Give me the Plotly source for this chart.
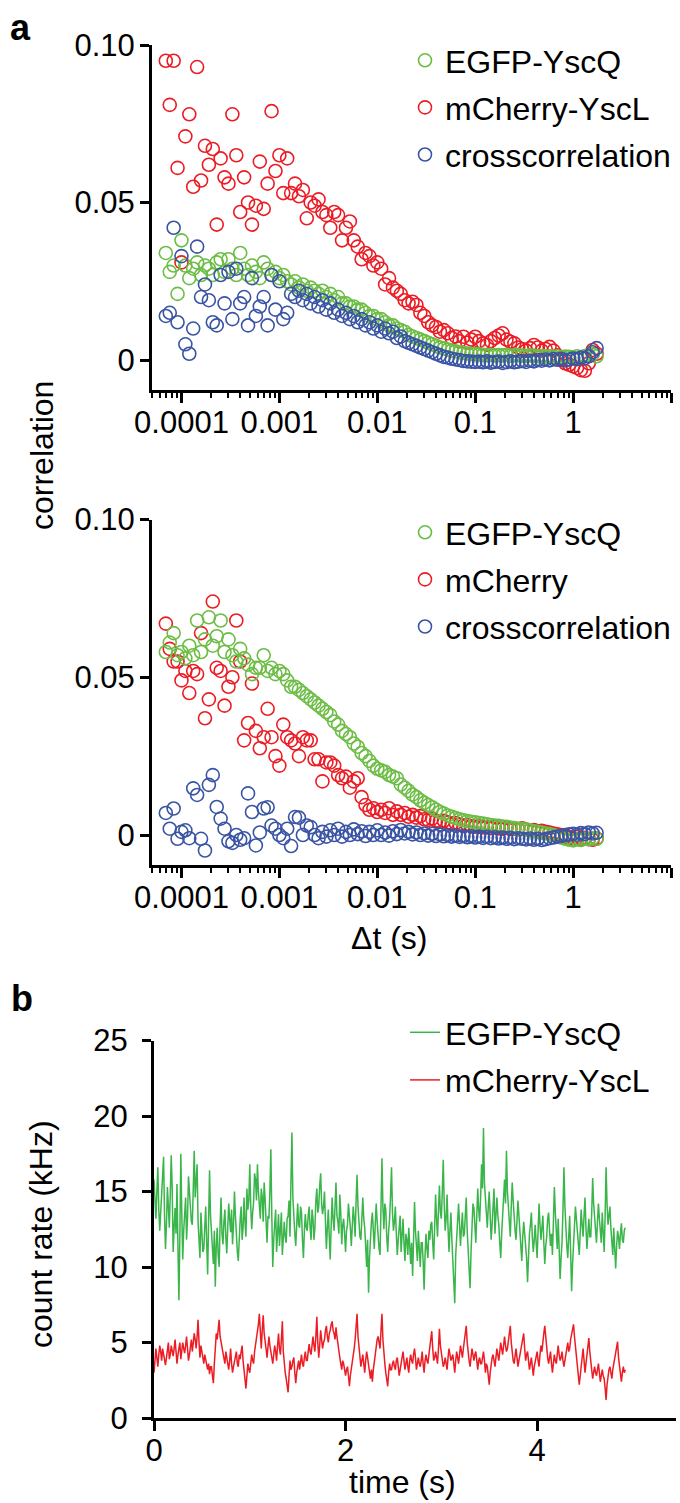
import plotly.graph_objects as go

# ---------------- data ----------------
LAG_S = [
    6.92e-5, 7.59e-5, 8.32e-5, 9.12e-5,
    1.000e-4, 1.096e-4, 1.202e-4, 1.318e-4, 1.445e-4, 1.585e-4, 1.738e-4, 1.905e-4, 2.089e-4, 2.291e-4,
    2.512e-4, 2.754e-4, 3.020e-4, 3.311e-4, 3.631e-4, 3.981e-4, 4.365e-4, 4.786e-4, 5.248e-4, 5.754e-4,
    6.310e-4, 6.918e-4, 7.586e-4, 8.318e-4, 9.120e-4,
    1.000e-3, 1.096e-3, 1.202e-3, 1.318e-3, 1.445e-3, 1.585e-3, 1.738e-3, 1.905e-3, 2.089e-3, 2.291e-3,
    2.512e-3, 2.754e-3, 3.020e-3, 3.311e-3, 3.631e-3, 3.981e-3, 4.365e-3, 4.786e-3, 5.248e-3, 5.754e-3,
    6.310e-3, 6.918e-3, 7.586e-3, 8.318e-3, 9.120e-3,
    1.000e-2, 1.096e-2, 1.202e-2, 1.318e-2, 1.445e-2, 1.585e-2, 1.738e-2, 1.905e-2, 2.089e-2, 2.291e-2,
    2.512e-2, 2.754e-2, 3.020e-2, 3.311e-2, 3.631e-2, 3.981e-2, 4.365e-2, 4.786e-2, 5.248e-2, 5.754e-2,
    6.310e-2, 6.918e-2, 7.586e-2, 8.318e-2, 9.120e-2,
    1.000e-1, 1.096e-1, 1.202e-1, 1.318e-1, 1.445e-1, 1.585e-1, 1.738e-1, 1.905e-1, 2.089e-1, 2.291e-1,
    2.512e-1, 2.754e-1, 3.020e-1, 3.311e-1, 3.631e-1, 3.981e-1, 4.365e-1, 4.786e-1, 5.248e-1, 5.754e-1,
    6.310e-1, 6.918e-1, 7.586e-1, 8.318e-1, 9.120e-1,
    1.000, 1.096, 1.202, 1.318, 1.445, 1.585, 1.738,
]

A1_EGFP_YSCQ = [
    0.034, 0.028, 0.030, 0.021,
    0.038, 0.030, 0.026, 0.029, 0.031, 0.027, 0.030, 0.029, 0.027, 0.031, 0.032, 0.028, 0.032,
    0.029, 0.027, 0.034, 0.029, 0.027, 0.030, 0.028, 0.026, 0.031, 0.029, 0.027, 0.028,
    0.026, 0.027, 0.025, 0.024, 0.025, 0.023, 0.024, 0.022, 0.023, 0.022, 0.021, 0.022, 0.020,
    0.021, 0.019, 0.020, 0.018, 0.018, 0.017, 0.017, 0.016, 0.016, 0.015, 0.014, 0.014,
    0.013, 0.013, 0.012, 0.011, 0.011, 0.010, 0.0095, 0.009, 0.008, 0.0075, 0.007, 0.0065, 0.006,
    0.0055, 0.005, 0.0045, 0.004, 0.0037, 0.0033, 0.003, 0.0028, 0.0025, 0.0023, 0.0021, 0.002,
    0.0019, 0.0018, 0.0017, 0.0016, 0.0017, 0.0015, 0.0016, 0.0015, 0.0017, 0.0014, 0.0015, 0.0016,
    0.0014, 0.0013, 0.0015, 0.0014, 0.0012, 0.0013, 0.0011, 0.0012, 0.001, 0.0012, 0.0009, 0.0011, 0.001,
    0.0008, 0.0012, 0.0007, 0.0013, 0.0015, 0.0018, 0.0012,
]

A1_MCHERRY_YSCL = [
    0.095, 0.081, 0.095, 0.061,
    0.031, 0.071, 0.078, 0.055, 0.093, 0.057, 0.068, 0.062, 0.067, 0.043, 0.064, 0.058, 0.056,
    0.078, 0.065, 0.047, 0.058, 0.050, 0.043, 0.049, 0.063, 0.048, 0.056, 0.079, 0.060,
    0.065, 0.053, 0.064, 0.053, 0.056, 0.052, 0.054, 0.045, 0.050, 0.049, 0.051, 0.047, 0.046,
    0.042, 0.047, 0.046, 0.038, 0.042, 0.044, 0.038, 0.036, 0.032, 0.034, 0.033, 0.030,
    0.031, 0.029, 0.024, 0.026, 0.023, 0.022, 0.021, 0.019, 0.018, 0.0185, 0.0175, 0.015, 0.014,
    0.012, 0.011, 0.0105, 0.009, 0.0095, 0.0085, 0.007, 0.0075, 0.006, 0.0074, 0.0055, 0.0065,
    0.0074, 0.006, 0.0053, 0.0048, 0.006, 0.007, 0.0078, 0.0085, 0.0065, 0.0058, 0.0053, 0.004,
    0.0035, 0.003, 0.0038, 0.0048, 0.004, 0.003, 0.0035, 0.0042, 0.003, 0.0015, 0.0, -0.001, -0.0015,
    -0.002, -0.0025, -0.0032, -0.0034, -0.001, 0.0032, 0.002,
]

A1_CROSS = [
    0.014, 0.015, 0.042, 0.012,
    0.033, 0.005, 0.002, 0.010, 0.036, 0.020, 0.024, 0.019, 0.012, 0.011, 0.027, 0.018, 0.028,
    0.013, 0.029, 0.018, 0.020, 0.011, 0.026, 0.014, 0.017, 0.020, 0.011, 0.027, 0.016,
    0.025, 0.013, 0.015, 0.021, 0.020, 0.022, 0.019, 0.021, 0.018, 0.020, 0.017, 0.019, 0.016,
    0.018, 0.015, 0.016, 0.014, 0.015, 0.013, 0.014, 0.012, 0.013, 0.011, 0.012, 0.010,
    0.011, 0.009, 0.010, 0.0085, 0.009, 0.007, 0.0075, 0.006, 0.0055, 0.005, 0.0045, 0.004, 0.0035,
    0.003, 0.0025, 0.002, 0.0015, 0.001, 0.0008, 0.0004, 0.0002, 0.0, -0.0003, -0.0004, -0.0005,
    -0.0006, -0.0005, -0.0007, -0.0004, -0.0008, -0.0006, -0.0005, -0.0009, -0.0006, -0.0004, -0.0007, -0.0005,
    -0.0003, -0.0006, -0.0002, -0.0004, 0.0, -0.0002, 0.0002, -0.0001, 0.0003, 0.0001, 0.0004, -0.0001, 0.0002,
    0.0005, 0.0003, 0.0008, 0.0006, 0.0012, 0.0025, 0.0038,
]

A2_EGFP_YSCQ = [
    0.058, 0.061, 0.064, 0.057,
    0.058, 0.056, 0.060, 0.057, 0.068, 0.058, 0.062, 0.069, 0.060, 0.063, 0.068, 0.058, 0.062,
    0.057, 0.055, 0.059, 0.056, 0.054, 0.051, 0.053, 0.053, 0.057, 0.052, 0.053, 0.051,
    0.052, 0.051, 0.049, 0.047, 0.047, 0.046, 0.045, 0.044, 0.043, 0.042, 0.041, 0.040, 0.039,
    0.038, 0.036, 0.035, 0.033, 0.032, 0.031, 0.029, 0.028, 0.026, 0.025, 0.0235, 0.022,
    0.021, 0.0205, 0.020, 0.019, 0.0185, 0.018, 0.016, 0.015, 0.014, 0.0128, 0.012, 0.011, 0.0102,
    0.0095, 0.0088, 0.008, 0.0073, 0.0068, 0.0062, 0.0058, 0.0054, 0.005, 0.0047, 0.0044, 0.0042,
    0.004, 0.0038, 0.0036, 0.0034, 0.0032, 0.003, 0.0029, 0.0027, 0.0026, 0.0024, 0.0022, 0.002,
    0.0019, 0.0017, 0.0015, 0.0012, 0.001, 0.0008, 0.0005, 0.0003, 0.0, -0.0003, -0.0008, -0.0012, -0.0015,
    -0.0017, -0.0014, -0.0016, -0.0012, -0.0013, -0.001, -0.0012,
]

A2_MCHERRY = [
    0.067, 0.059, 0.055, 0.055,
    0.049, 0.052, 0.045, 0.052, 0.051, 0.064, 0.037, 0.043, 0.074, 0.053, 0.052, 0.041, 0.047,
    0.050, 0.068, 0.055, 0.030, 0.0355, 0.048, 0.033, 0.0275, 0.031, 0.040, 0.031, 0.025,
    0.022, 0.035, 0.031, 0.030, 0.029, 0.025, 0.031, 0.030, 0.030, 0.024, 0.024, 0.017, 0.023,
    0.023, 0.022, 0.019, 0.018, 0.0185, 0.015, 0.017, 0.018, 0.012, 0.0095, 0.008, 0.0085,
    0.0073, 0.008, 0.007, 0.0085, 0.0064, 0.0075, 0.0064, 0.007, 0.0058, 0.0064, 0.0055, 0.006, 0.005,
    0.0048, 0.0052, 0.0045, 0.0042, 0.0045, 0.004, 0.0036, 0.0038, 0.0033, 0.003, 0.0032, 0.0028,
    0.0026, 0.0028, 0.0024, 0.0025, 0.0022, 0.0026, 0.0021, 0.002, 0.0023, 0.0019, 0.002, 0.0018,
    0.0021, 0.0017, 0.0015, 0.0016, 0.0012, 0.0013, 0.001, 0.0008, 0.0005, 0.0002, 0.0, -0.0005, -0.0008,
    -0.001, -0.0006, -0.0012, -0.0009, -0.0013, -0.0015, -0.0011,
]

A2_CROSS = [
    0.007, 0.002, 0.0084, -0.0012,
    0.001, 0.0015, -0.001, 0.0148, 0.0127, -0.0012, -0.0049, 0.0159, 0.019, 0.0089, 0.0052, 0.002, -0.002,
    -0.0025, 0.0, -0.0015, -0.001, 0.0132, 0.0073, -0.0033, 0.0008, 0.0084, 0.0088, 0.003, 0.002,
    0.0, -0.001, 0.002, -0.0035, 0.0057, 0.0055, 0.0, 0.003, 0.0025, 0.0, -0.001, 0.001, -0.0005,
    0.0015, 0.0, 0.002, -0.0005, 0.001, 0.0, 0.0018, 0.0003, 0.0012, -0.0003, 0.001, 0.0,
    0.0015, 0.0, 0.0008, -0.0002, 0.0012, 0.0003, 0.0016, 0.0005, 0.001, 0.0002, 0.0008, 0.0, 0.0005,
    -0.0002, 0.0004, -0.0003, 0.0002, -0.0004, 0.0, -0.0005, -0.0002, -0.0006, -0.0003, -0.0007, -0.0004,
    -0.0008, -0.0005, -0.0009, -0.0006, -0.001, -0.0007, -0.0011, -0.0008, -0.0012, -0.0009, -0.0013, -0.001,
    -0.0012, -0.0014, -0.0011, -0.0015, -0.0012, -0.0016, -0.0013, -0.001, -0.0008, -0.0005, -0.0003, 0.0, 0.0002,
    0.0004, 0.0001, 0.0006, 0.0003, 0.0008, 0.0005, 0.0007,
]

BIN_S = 0.01  # trace bin width (s)

B_EGFP_KHZ = [
    15.8, 14.2, 13.2, 15.0, 16.6, 13.8, 12.4, 13.6, 14.9, 16.0, 17.3, 13.4, 11.2, 12.8, 15.3, 14.0, 12.6, 14.8, 17.4, 15.2,
    11.0, 12.6, 13.9, 12.2, 15.5, 11.4, 7.8, 12.0, 17.5, 13.6, 10.5, 12.4, 13.4, 14.6, 11.8, 13.2, 16.0, 14.8, 14.4, 13.0,
    12.8, 15.4, 17.7, 14.6, 15.6, 16.8, 13.0, 11.8, 10.6, 13.6, 12.4, 11.0, 11.2, 12.8, 14.0, 11.6, 9.5, 13.0, 16.4, 13.4,
    12.0, 11.0, 10.2, 12.4, 8.7, 11.4, 12.6, 10.8, 10.0, 12.8, 14.6, 12.2, 11.5, 13.0, 13.8, 12.0, 10.9, 12.6, 14.2, 13.2,
    12.3, 13.8, 11.5, 12.8, 15.0, 13.4, 12.0, 11.0, 10.4, 12.2, 13.2, 14.0, 11.8, 12.6, 14.6, 13.0, 12.0, 15.2, 13.8, 14.4,
    16.8, 14.0, 12.5, 13.6, 14.3, 16.2, 15.8, 14.4, 16.8, 15.0, 14.0, 13.2, 15.2, 14.6, 13.0, 15.6, 14.5, 12.8, 11.6, 13.4,
    13.2, 15.0, 17.8, 13.4, 10.0, 11.8, 12.8, 13.8, 11.0, 12.4, 13.5, 11.4, 12.2, 13.6, 10.8, 12.6, 13.0, 12.0, 11.6, 13.2,
    13.4, 14.4, 12.0, 15.8, 18.9, 14.6, 13.0, 12.2, 11.4, 13.0, 14.2, 12.8, 12.6, 14.0, 13.6, 11.8, 10.6, 12.4, 13.5, 12.6,
    12.4, 13.4, 14.0, 12.6, 11.8, 13.8, 13.2, 11.8, 12.6, 14.4, 15.2, 13.6, 14.0, 15.4, 16.2, 14.2, 13.5, 14.0, 15.0, 13.0,
    11.2, 12.6, 13.8, 12.0, 10.5, 12.8, 14.6, 13.2, 12.4, 14.0, 15.6, 13.4, 13.0, 12.2, 14.8, 13.6, 11.5, 12.8, 13.2, 12.2,
    11.0, 12.4, 12.8, 14.2, 13.6, 12.6, 11.4, 12.8, 14.0, 13.2, 12.0, 14.4, 16.1, 14.0, 13.0, 12.0, 11.8, 13.4, 14.6, 13.2,
    12.6, 11.4, 10.0, 11.8, 8.3, 10.6, 12.0, 13.0, 13.6, 12.2, 11.2, 12.8, 14.2, 13.0, 12.0, 11.2, 10.8, 13.8, 17.2, 14.0,
    12.5, 14.2, 13.8, 12.0, 11.0, 12.4, 13.2, 14.8, 16.6, 13.6, 12.4, 13.0, 14.0, 12.2, 10.8, 11.8, 12.6, 13.4, 11.0, 12.2,
    13.2, 11.6, 10.4, 12.2, 11.8, 10.8, 12.6, 11.4, 10.2, 11.6, 9.4, 11.8, 14.3, 12.4, 11.2, 10.4, 12.4, 11.0, 10.0, 11.6,
    11.6, 10.4, 8.5, 10.8, 12.2, 11.2, 10.6, 12.4, 11.8, 12.8, 13.0, 11.6, 10.5, 12.6, 14.8, 13.2, 12.0, 13.8, 15.4, 13.6,
    13.2, 15.0, 17.1, 14.2, 12.4, 13.2, 14.8, 12.6, 11.0, 12.4, 13.6, 11.8, 10.4, 9.6, 7.6, 10.8, 12.0, 13.0, 14.2, 12.8,
    11.4, 12.6, 13.6, 12.0, 12.2, 13.4, 14.6, 12.4, 10.8, 9.8, 8.6, 11.0, 12.8, 14.2, 13.9, 12.2, 11.6, 13.4, 15.2, 13.8,
    13.0, 14.6, 16.8, 15.2, 19.2, 15.6, 14.4, 13.2, 12.6, 14.0, 15.0, 13.4, 11.8, 12.8, 13.8, 15.2, 12.2, 13.6, 14.6, 13.4,
    12.8, 11.6, 10.6, 12.2, 13.4, 14.6, 15.8, 14.2, 17.7, 15.0, 14.2, 13.0, 12.0, 14.0, 15.6, 14.4, 13.2, 12.4, 11.8, 13.0,
    14.4, 13.4, 12.6, 11.4, 10.4, 12.0, 13.0, 12.2, 11.6, 10.6, 9.0, 11.2, 12.2, 12.8, 13.6, 12.0, 11.0, 11.8, 12.8, 11.6,
    10.6, 12.4, 14.2, 12.8, 11.8, 12.6, 13.4, 11.6, 10.2, 11.4, 12.0, 13.2, 13.6, 12.4, 11.4, 12.2, 10.8, 13.0, 15.3, 13.6,
    12.4, 11.2, 13.2, 11.0, 9.2, 10.6, 11.6, 13.8, 16.6, 14.0, 12.2, 11.4, 10.6, 12.0, 13.4, 11.0, 8.4, 10.2, 11.8, 12.6,
    14.0, 13.2, 12.6, 11.6, 10.8, 12.4, 13.8, 12.8, 12.0, 13.4, 14.6, 12.6, 11.2, 12.2, 13.2, 12.0, 12.0, 13.6, 15.9, 14.2,
    13.4, 12.4, 11.6, 13.0, 14.2, 13.2, 12.4, 11.6, 13.6, 12.2, 11.0, 13.4, 16.6, 14.2, 12.8, 13.4, 14.0, 12.6, 11.8, 10.8,
    12.6, 11.0, 9.9, 11.4, 12.4, 12.0, 11.2, 12.2, 12.9, 11.8, 11.6, 12.4, 12.6,
]

B_MCHERRY_KHZ = [
    3.0, 3.8, 4.6, 4.0, 3.4, 4.2, 4.8, 4.4, 3.8, 4.6, 4.2, 3.6, 3.5, 4.0, 4.4, 5.0, 3.9, 4.2, 4.8, 4.4,
    4.1, 4.6, 5.2, 4.4, 3.6, 4.2, 4.6, 5.0, 3.9, 4.4, 5.0, 4.6, 4.3, 4.8, 5.4, 4.6, 3.8, 4.2, 4.9, 5.2,
    4.4, 5.0, 5.6, 5.2, 4.6, 5.4, 6.5, 5.0, 4.0, 4.8, 4.4, 3.8, 3.6, 4.2, 3.8, 3.4, 3.2, 3.6, 2.9, 3.4,
    3.4, 2.8, 2.3, 3.6, 4.6, 5.6, 5.2, 6.0, 6.5, 5.4, 5.0, 4.6, 4.2, 3.8, 3.6, 4.4, 4.0, 3.6, 3.2, 3.8,
    4.6, 3.6, 3.0, 3.4, 3.8, 4.0, 4.4, 3.6, 3.4, 4.2, 3.9, 4.4, 4.8, 3.8, 3.2, 2.6, 1.95, 2.8, 3.6, 3.2,
    3.0, 3.6, 4.2, 3.8, 3.6, 4.4, 4.8, 5.4, 5.8, 6.2, 6.9, 5.2, 4.6, 5.8, 6.8, 5.6, 5.2, 4.6, 4.0, 4.8,
    5.4, 4.8, 4.4, 3.8, 3.6, 4.2, 4.8, 4.4, 3.8, 4.8, 5.6, 4.6, 4.2, 5.2, 6.4, 4.4, 3.4, 3.0, 2.6, 2.2,
    1.7, 2.8, 3.8, 3.2, 3.4, 3.8, 4.0, 3.0, 2.3, 3.0, 3.6, 3.8, 3.2, 3.8, 4.2, 3.6, 3.4, 4.0, 4.4, 3.8,
    3.8, 4.4, 4.9, 4.4, 4.2, 4.8, 5.4, 4.8, 4.4, 5.4, 6.7, 5.0, 4.0, 4.8, 5.8, 5.2, 4.6, 5.0, 5.2, 5.8,
    6.1, 5.4, 5.0, 5.6, 5.8, 6.2, 6.4, 5.8, 5.6, 5.2, 6.0, 5.4, 4.8, 4.4, 4.0, 3.6, 3.2, 3.8, 3.6, 3.2,
    2.8, 3.2, 3.4, 2.8, 2.1, 2.8, 3.2, 3.6, 4.0, 4.6, 5.2, 6.0, 6.9, 5.4, 4.6, 4.0, 3.4, 3.8, 4.2, 3.6,
    3.0, 3.8, 4.4, 4.0, 3.6, 3.0, 2.6, 3.2, 2.4, 3.2, 3.8, 4.4, 4.8, 5.2, 5.4, 5.0, 4.6, 5.8, 6.9, 5.2,
    4.2, 3.6, 3.0, 2.6, 2.1, 3.0, 3.6, 3.2, 3.2, 3.6, 3.8, 3.4, 3.2, 3.8, 4.0, 3.4, 2.8, 3.2, 3.6, 4.0,
    4.4, 3.8, 3.2, 3.6, 4.0, 3.4, 3.0, 3.8, 4.2, 3.8, 3.6, 4.2, 4.6, 4.0, 3.2, 3.6, 4.0, 3.6, 3.4, 3.8,
    4.4, 3.6, 3.0, 3.8, 4.2, 3.8, 3.6, 4.2, 4.8, 5.2, 5.75, 4.6, 3.8, 4.0, 4.4, 4.0, 3.6, 4.6, 5.9, 4.8,
    4.2, 3.8, 3.4, 3.6, 4.0, 3.6, 3.2, 4.0, 4.6, 4.2, 3.8, 4.0, 4.2, 3.6, 3.0, 3.8, 4.4, 4.0, 3.6, 4.2,
    4.8, 4.4, 4.0, 4.6, 5.0, 5.4, 6.1, 5.0, 4.2, 3.8, 3.4, 4.0, 4.6, 4.2, 3.8, 4.2, 4.4, 3.8, 3.2, 3.8,
    4.0, 3.6, 3.6, 4.0, 4.4, 3.8, 3.0, 3.6, 3.4, 2.8, 2.2, 3.0, 3.6, 4.0, 4.2, 3.8, 3.4, 4.0, 4.6, 4.2,
    3.8, 4.4, 5.0, 4.6, 4.2, 4.8, 5.4, 4.8, 4.4, 4.6, 5.0, 5.6, 6.1, 5.0, 4.2, 3.8, 3.6, 4.0, 4.6, 4.0,
    3.4, 3.8, 4.2, 4.6, 5.0, 5.2, 5.6, 4.6, 3.8, 4.2, 4.4, 3.8, 3.2, 3.6, 4.0, 3.4, 2.8, 3.4, 3.8, 4.2,
    4.4, 3.8, 3.4, 4.2, 4.8, 4.4, 5.2, 5.6, 6.1, 5.2, 4.6, 4.0, 3.6, 4.0, 4.4, 3.6, 3.0, 3.6, 4.2, 3.8,
    3.6, 4.2, 4.8, 4.2, 3.8, 4.0, 4.4, 3.8, 3.4, 3.8, 4.2, 4.6, 5.0, 4.4, 4.6, 5.2, 5.6, 5.8, 6.2, 5.4,
    4.8, 4.2, 3.6, 2.8, 2.2, 2.8, 3.4, 4.0, 4.6, 3.8, 3.0, 3.6, 4.2, 4.8, 5.3, 4.4, 3.6, 3.0, 2.6, 3.0,
    3.4, 3.0, 2.8, 3.2, 3.6, 3.0, 2.4, 2.8, 3.2, 2.8, 2.6, 2.0, 1.2, 2.2, 2.8, 3.2, 3.4, 3.0, 2.6, 3.2,
    3.6, 4.0, 4.2, 4.6, 5.05, 4.0, 3.4, 2.8, 2.4, 3.0, 3.4, 3.0, 3.2,
]

TIME_S = [round(i * BIN_S, 3) for i in range(len(B_EGFP_KHZ))]
TIME_S_RED = [round(i * BIN_S, 3) for i in range(len(B_MCHERRY_KHZ))]

LAG_TICKS = [1e-4, 1e-3, 1e-2, 1e-1, 1, 10]
LAG_TICK_TEXT = ["0.0001", "0.001", "0.01", "0.1", "1", ""]
CORR_TICKS = [0, 0.05, 0.10]
CORR_TICK_TEXT = ["0", "0.05", "0.10"]
TIME_TICKS = [0, 2, 4]
RATE_TICKS = [0, 5, 10, 15, 20, 25]

# ---------------- style ----------------
W, H = 680, 1503
FONT = "Arial, 'Liberation Sans', Helvetica, sans-serif"
GREEN_M = "#6cbd45"
RED_M = "#ec1c24"
BLUE_M = "#3a54a4"
GREEN_L = "#39b54a"
RED_L = "#ec1c24"
MSIZE = 13
MLW = 1.6


def xd(px):
    return px / W


def yd(py):
    return 1 - py / H


fig = go.Figure()


def circles(x, y, color, name, xa, ya, legend, rank):
    fig.add_trace(go.Scatter(
        x=x, y=y, mode="markers", name=name,
        marker=dict(symbol="circle-open", size=MSIZE, color=color, line=dict(width=MLW, color=color)),
        xaxis=xa, yaxis=ya, legend=legend, legendrank=rank, legendgroup=name + legend,
        cliponaxis=False,
    ))


# panel a (top)
circles(LAG_S, A1_MCHERRY_YSCL, RED_M, "mCherry-YscL", "x", "y", "legend", 2)
circles(LAG_S, A1_EGFP_YSCQ, GREEN_M, "EGFP-YscQ", "x", "y", "legend", 1)
circles(LAG_S, A1_CROSS, BLUE_M, "crosscorrelation", "x", "y", "legend", 3)
# panel a (bottom)
circles(LAG_S, A2_MCHERRY, RED_M, "mCherry", "x2", "y2", "legend2", 2)
circles(LAG_S, A2_EGFP_YSCQ, GREEN_M, "EGFP-YscQ", "x2", "y2", "legend2", 1)
circles(LAG_S, A2_CROSS, BLUE_M, "crosscorrelation", "x2", "y2", "legend2", 3)
# panel b
fig.add_trace(go.Scatter(x=TIME_S, y=B_EGFP_KHZ, mode="lines", name="EGFP-YscQ",
                         line=dict(color=GREEN_L, width=1.5), xaxis="x3", yaxis="y3",
                         legend="legend3", legendrank=1, legendgroup="g3"))
fig.add_trace(go.Scatter(x=TIME_S_RED, y=B_MCHERRY_KHZ, mode="lines", name="mCherry-YscL",
                         line=dict(color=RED_L, width=1.5), xaxis="x3", yaxis="y3",
                         legend="legend3", legendrank=2, legendgroup="r3"))

AX = dict(showline=True, linewidth=3, linecolor="black", ticks="outside", tickwidth=3,
          tickcolor="black", showgrid=False, zeroline=False, automargin=False,
          tickfont=dict(family=FONT, size=31, color="black"))


def lag_axis(domain_px, anchor):
    return dict(AX, type="log", range=[-4.301, 1.0], domain=[xd(domain_px[0]), xd(domain_px[1])],
                anchor=anchor, tickmode="array", tickvals=LAG_TICKS, ticktext=LAG_TICK_TEXT,
                ticklen=10, ticklabelstandoff=-7,
                minor=dict(ticks="outside", ticklen=5, tickwidth=2, tickcolor="black", dtick="D1",
                           showgrid=False))


def corr_axis(top_px, bot_px, anchor):
    return dict(AX, range=[-0.0095, 0.10], domain=[yd(bot_px), yd(top_px)], anchor=anchor,
                tickmode="array", tickvals=CORR_TICKS, ticktext=CORR_TICK_TEXT, ticklen=9,
                ticklabelstandoff=-1)


def legend_cfg(xpx, ypx, gap):
    return dict(x=xd(xpx), y=yd(ypx), xanchor="left", yanchor="top",
                font=dict(family=FONT, size=32, color="black"), bgcolor="rgba(0,0,0,0)",
                borderwidth=0, traceorder="grouped", tracegroupgap=gap)


annotations = [
    dict(text="<b>a</b>", x=xd(20), y=yd(27), showarrow=False, font=dict(family=FONT, size=36, color="black")),
    dict(text="<b>b</b>", x=xd(22), y=yd(998), showarrow=False, font=dict(family=FONT, size=36, color="black")),
    dict(text="correlation", x=xd(42), y=yd(456), textangle=-90, showarrow=False,
         font=dict(family=FONT, size=32, color="black")),
    dict(text="\u0394t (s)", x=xd(389), y=yd(938), showarrow=False,
         font=dict(family=FONT, size=32, color="black")),
    dict(text="count rate (kHz)", x=xd(41), y=yd(1234), textangle=-90, showarrow=False,
         font=dict(family=FONT, size=32, color="black")),
    dict(text="time (s)", x=xd(402), y=yd(1482), showarrow=False,
         font=dict(family=FONT, size=32, color="black")),
]
for a in annotations:
    a.update(xref="paper", yref="paper", xanchor="center", yanchor="middle")

fig.update_layout(
    template="none",
    width=W, height=H, margin=dict(l=0, r=0, t=0, b=0, pad=0, autoexpand=False),
    paper_bgcolor="white", plot_bgcolor="white",
    font=dict(family=FONT, color="black"),
    xaxis=lag_axis((152, 671), "y"),
    yaxis=corr_axis(45, 390, "x"),
    xaxis2=lag_axis((152, 671), "y2"),
    yaxis2=corr_axis(519.5, 865, "x2"),
    xaxis3=dict(AX, range=[0, 5.45], domain=[xd(154), xd(676)], anchor="y3",
                tickmode="array", tickvals=TIME_TICKS, ticklen=10, ticklabelstandoff=-7),
    yaxis3=dict(AX, range=[0, 25], domain=[yd(1418), yd(1040.5)], anchor="x3",
                tickmode="array", tickvals=RATE_TICKS, ticklen=9, ticklabelstandoff=8),
    legend=legend_cfg(405, 33, 2.5),
    legend2=legend_cfg(405, 505, 2.5),
    legend3=legend_cfg(405, 1005, 3),
    annotations=annotations,
    showlegend=True,
)

fig.write_html("out.html")
